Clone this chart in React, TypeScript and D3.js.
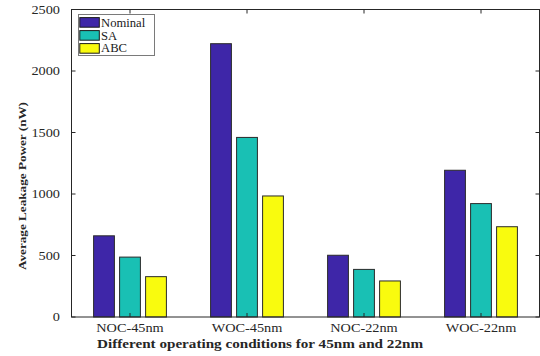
import React from "react";
import * as d3 from "d3";

const categories = ["NOC-45nm", "WOC-45nm", "NOC-22nm", "WOC-22nm"];
const seriesNames = ["Nominal", "SA", "ABC"];
const nominal = [660, 2222, 502, 1193];
const sa = [487, 1460, 387, 922];
const abc = [328, 984, 293, 734];
const seriesColors = ["#3e26a8", "#19c0b4", "#f9fb0e"];
const yTicks = [0, 500, 1000, 1500, 2000, 2500];

const W = 540, H = 356;
const L = 71.5, R = 539.5, T = 9.5, B = 317;
const FONT = "Liberation Serif";
const SX = 1.1;

export default function App() {
  const values = [nominal, sa, abc];
  const y = d3.scaleLinear().domain([0, 2500]).range([B, T]);
  const xg = d3.scaleBand<string>().domain(categories).range([L, R]).paddingInner(0).paddingOuter(0);
  const xs = d3.scaleBand<string>().domain(seriesNames).range([-36.4, 36.4]).paddingInner(0.2).paddingOuter(0);
  const cx = (c: string) => (xg(c) as number) + xg.bandwidth() / 2;
  const axisColor = "#262626";

  return (
    <svg width={W} height={H} style={{ position: "absolute", left: 0, top: 0, background: "#fff" }}>
      {categories.map((c, ci) =>
        seriesNames.map((s, si) => (
          <rect
            key={c + s}
            x={cx(c) + (xs(s) as number)}
            y={y(values[si][ci])}
            width={xs.bandwidth()}
            height={B - y(values[si][ci])}
            fill={seriesColors[si]}
            stroke="#2a2a2a"
            strokeWidth={1}
          />
        ))
      )}
      <rect x={L} y={T} width={R - L} height={B - T} fill="none" stroke={axisColor} strokeWidth={1} />
      {yTicks.map((t) => (
        <g key={t}>
          <line x1={L} x2={L + 4} y1={y(t)} y2={y(t)} stroke={axisColor} />
          <line x1={R - 4} x2={R} y1={y(t)} y2={y(t)} stroke={axisColor} />
          <text
            transform={`translate(${L - 11.5},${y(t)}) scale(${SX},1)`}
            dy="0.33em"
            textAnchor="end"
            fontFamily={FONT}
            fontSize={13}
            fill="#262626"
          >
            {t}
          </text>
        </g>
      ))}
      {categories.map((c) => (
        <g key={c}>
          <line x1={cx(c)} x2={cx(c)} y1={B} y2={B - 4} stroke={axisColor} />
          <line x1={cx(c)} x2={cx(c)} y1={T} y2={T + 4} stroke={axisColor} />
          <text
            transform={`translate(${cx(c)},${B + 14.7}) scale(${SX},1)`}
            textAnchor="middle"
            fontFamily={FONT}
            fontSize={13}
            fill="#262626"
          >
            {c}
          </text>
        </g>
      ))}
      <text
        x={260}
        y={347.5}
        textAnchor="middle"
        fontFamily={FONT}
        fontSize={13}
        fontWeight="bold"
        fill="#262626"
        textLength={326}
        lengthAdjust="spacingAndGlyphs"
      >
        Different operating conditions for 45nm and 22nm
      </text>
      <text
        transform={`translate(25.5,186) rotate(-90) scale(1,0.85)`}
        textAnchor="middle"
        fontFamily={FONT}
        fontSize={12.5}
        fontWeight="bold"
        fill="#262626"
        textLength={168}
        lengthAdjust="spacingAndGlyphs"
      >
        Average Leakage Power (nW)
      </text>
      <rect x={78.5} y={14.5} width={76} height={41} fill="#fff" stroke="#7a7a7a" strokeWidth={1} />
      {seriesNames.map((s, i) => (
        <g key={s}>
          <rect x={79.8} y={17.6 + i * 13} width={19.5} height={9.6} fill={seriesColors[i]} stroke="#1a1a1a" strokeWidth={1} />
          <text
            transform={`translate(101,${26.7 + i * 12.8}) scale(${SX},1)`}
            fontFamily={FONT}
            fontSize={11.5}
            fill="#1a1a1a"
          >
            {s}
          </text>
        </g>
      ))}
    </svg>
  );
}
